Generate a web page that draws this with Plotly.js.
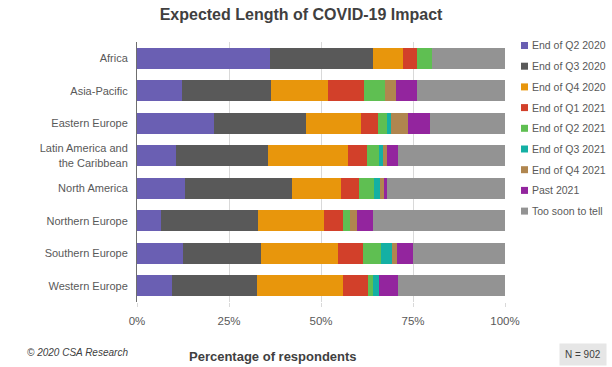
<!DOCTYPE html>
<html>
<head>
<meta charset="utf-8">
<script src="https://cdn.plot.ly/plotly-3.0.1.min.js"></script>
<style>html,body{margin:0;padding:0;background:#fff;}#chart{width:612px;height:367px;}</style>
</head>
<body>
<div id="chart"></div>
<script>
const regions = ["Africa","Asia-Pacific","Eastern Europe","Latin America and<br>the Caribbean","North America","Northern Europe","Southern Europe","Western Europe"];
const seriesNames = ["End of Q2 2020","End of Q3 2020","End of Q4 2020","End of Q1 2021","End of Q2 2021","End of Q3 2021","End of Q4 2021","Past 2021","Too soon to tell"];
const colors = ["#6a5fb3","#595959","#e8960c","#d2402a","#5fbf52","#14b0a4","#b0864f","#93259e","#939393"];
const q2_2020 = [36.1,12.1,20.8,10.6,13.1,6.4,12.4,9.4];
const q3_2020 = [27.9,24.3,25.2,24.9,28.9,26.6,21.4,23.1];
const q4_2020 = [8.2,15.4,15.0,21.8,13.5,17.7,20.8,23.6];
const q1_2021 = [4.0,9.9,4.5,5.3,4.9,5.2,6.8,6.7];
const q2_2021 = [4.0,5.6,2.3,3.2,4.0,1.9,5.0,1.3];
const q3_2021 = [0,0,1.3,1.0,1.5,0,3.0,1.7];
const q4_2021 = [0,3.2,4.6,1.0,1.2,2.1,1.3,0];
const past_2021 = [0,5.5,5.8,3.2,0.7,4.1,4.3,5.2];
const tooSoon = [19.8,24.0,20.5,29.0,32.2,36.0,25.0,29.0];
const xTicks = [0,25,50,75,100];
const xTickText = ["0%","25%","50%","75%","100%"];

const allSeries = [q2_2020,q3_2020,q4_2020,q1_2021,q2_2021,q3_2021,q4_2021,past_2021,tooSoon];
const FONT = 'Arial, "Liberation Sans", sans-serif';

const W = 612, H = 367;
const M = {l:137, r:107, t:42, b:65};
const pw = W - M.l - M.r, ph = H - M.t - M.b;
const px2x = p => (p - M.l) / pw;
const px2y = p => 1 - (p - M.t) / ph;

const traces = allSeries.map((vals,i)=>({
  type:'bar', orientation:'h', name:seriesNames[i],
  x: vals, y: regions,
  marker:{color:colors[i], line:{width:0}},
  showlegend:false
}));

// custom legend (small squares + labels)
const shapes = [], annotations = [];
seriesNames.forEach((nm,i)=>{
  const cy = 45.5 + i*20.7;
  shapes.push({type:'rect', xref:'paper', yref:'paper', x0:px2x(521), x1:px2x(528), y0:px2y(cy-3.5), y1:px2y(cy+3.5), fillcolor:colors[i], line:{width:0}});
  annotations.push({text:nm, xref:'paper', yref:'paper', x:px2x(530), y:px2y(cy), xanchor:'left', yanchor:'middle', showarrow:false, font:{size:10.5, color:'#595959', family:FONT}});
});
annotations.push({text:'<i>© 2020 CSA Research</i>', xref:'paper', yref:'paper', x:px2x(25), y:px2y(352), xanchor:'left', yanchor:'middle', showarrow:false, font:{size:10, color:'#404040', family:FONT}});
annotations.push({text:'<b>Percentage of respondents</b>', xref:'paper', yref:'paper', x:px2x(273), y:px2y(356), xanchor:'center', yanchor:'middle', showarrow:false, font:{size:13, color:'#404040', family:FONT}});
annotations.push({text:'N = 902', xref:'paper', yref:'paper', x:px2x(607), y:px2y(354), xanchor:'right', yanchor:'middle', showarrow:false, font:{size:10, color:'#404040', family:FONT}, bgcolor:'#e6e6e6', borderpad:5});

const layout = {
  width:W, height:H,
  barmode:'stack', bargap:0.36,
  paper_bgcolor:'#fff', plot_bgcolor:'#fff',
  margin:{l:M.l, r:M.r, t:M.t, b:M.b, autoexpand:false},
  font:{family:FONT, color:'#595959', size:11},
  title:{text:'<b>Expected Length of COVID-19 Impact</b>', font:{family:FONT, size:16, color:'#404040'}, x:301/W, xref:'container', xanchor:'center', y:1-14/H, yref:'container', yanchor:'middle'},
  xaxis:{range:[0,100], tickvals:xTicks, ticktext:xTickText, showgrid:true, gridcolor:'#d9d9d9', gridwidth:1, zeroline:false,
         ticks:'outside', ticklen:4, tickcolor:'#d9d9d9', tickfont:{size:11.5, color:'#595959', family:FONT}, ticklabelstandoff:4, showline:false, fixedrange:true},
  yaxis:{autorange:'reversed', showline:true, linecolor:'#6f6f6f', linewidth:1, ticks:'', showgrid:false,
         tickfont:{size:11, color:'#595959', family:FONT}, ticklabelstandoff:6},
  showlegend:false,
  shapes:shapes,
  annotations:annotations
};

Plotly.newPlot('chart', traces, layout, {displayModeBar:false, staticPlot:true});
</script>
</body>
</html>
